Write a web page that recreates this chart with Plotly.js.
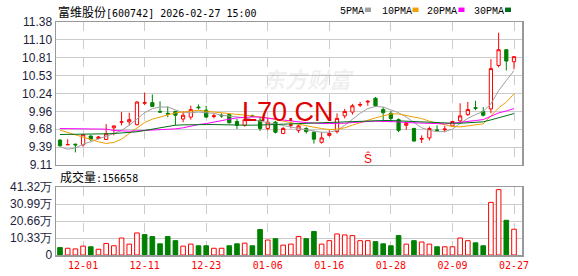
<!DOCTYPE html>
<html><head><meta charset="utf-8">
<script src="https://cdn.plot.ly/plotly-3.0.1.min.js"></script>
<style>html,body{margin:0;padding:0;background:#fff;}#chart{width:578px;height:276px;}</style>
</head><body><div id="chart"></div>
<script>
const dates = ['11-26','11-27','11-28','12-01','12-02','12-03','12-04','12-05','12-08','12-09','12-10','12-11','12-12','12-15','12-16','12-17','12-18','12-19','12-22','12-23','12-24','12-25','12-26','12-29','12-30','12-31','01-05','01-06','01-07','01-08','01-09','01-12','01-13','01-14','01-15','01-16','01-19','01-20','01-21','01-22','01-23','01-26','01-27','01-28','01-29','01-30','02-02','02-03','02-04','02-05','02-06','02-09','02-10','02-11','02-12','02-13','02-24','02-25','02-26','02-27'];
const openP = [9.505,9.43,9.44,9.43,9.57,9.53,9.515,9.70,9.79,9.795,9.75,10.09,10.10,9.96,9.93,9.96,9.84,9.87,10.03,9.98,9.88,9.90,9.91,9.80,9.74,9.89,9.82,9.69,9.79,9.61,9.74,9.66,9.69,9.63,9.47,9.58,9.64,9.89,9.95,10.06,10.11,10.17,9.99,9.93,9.83,9.74,9.69,9.52,9.54,9.665,9.67,9.73,9.81,9.91,10.02,9.96,10.00,10.69,10.94,10.75];
const highP = [9.52,9.52,9.45,9.60,9.58,9.57,9.76,9.74,9.95,9.94,10.12,10.26,10.23,10.12,10.04,9.97,9.96,10.05,10.07,10.05,9.92,9.93,9.93,9.84,9.85,9.91,9.87,9.85,9.81,9.715,9.78,9.75,9.71,9.65,9.63,9.66,9.93,10.00,10.08,10.11,10.14,10.19,10.03,9.97,9.85,9.80,9.70,9.58,9.72,9.74,9.73,9.81,10.09,10.11,10.13,10.03,10.79,11.21,10.95,10.83];
const lowP = [9.40,9.43,9.31,9.40,9.49,9.52,9.51,9.58,9.74,9.74,9.74,10.06,10.03,9.94,9.87,9.74,9.79,9.83,9.99,9.86,9.85,9.86,9.77,9.68,9.72,9.87,9.65,9.66,9.61,9.60,9.69,9.62,9.61,9.45,9.45,9.56,9.61,9.85,9.91,10.03,10.05,10.03,9.79,9.79,9.63,9.67,9.48,9.46,9.50,9.65,9.63,9.72,9.78,9.89,9.98,9.88,9.93,10.66,10.61,10.63];
const closeP = [9.415,9.435,9.43,9.59,9.52,9.555,9.605,9.73,9.795,9.83,10.11,10.10,10.04,9.95,9.92,9.90,9.90,9.99,10.02,9.87,9.89,9.89,9.78,9.74,9.83,9.88,9.69,9.79,9.63,9.69,9.745,9.73,9.64,9.52,9.54,9.61,9.85,9.96,10.05,10.07,10.12,10.05,9.94,9.85,9.66,9.77,9.49,9.53,9.69,9.66,9.68,9.80,9.89,9.99,10.01,9.90,10.64,10.94,10.76,10.83];
const ma5 = [9.40,9.36,9.38,9.44,9.48,9.52,9.56,9.61,9.66,9.74,9.84,9.94,10.005,10.03,10.03,9.99,9.94,9.94,9.95,9.94,9.93,9.90,9.89,9.87,9.86,9.83,9.805,9.78,9.76,9.73,9.715,9.69,9.67,9.65,9.63,9.63,9.66,9.74,9.84,9.93,10.005,10.04,10.03,9.99,9.94,9.87,9.78,9.70,9.66,9.64,9.64,9.68,9.77,9.85,9.91,9.96,10.08,10.29,10.45,10.61];
const ma10 = [9.663,9.626,9.584,9.542,9.505,9.479,9.452,9.468,9.521,9.61,9.689,9.784,9.837,9.873,9.91,9.937,9.952,9.963,9.979,9.963,9.952,9.937,9.926,9.91,9.90,9.889,9.873,9.858,9.831,9.805,9.779,9.752,9.731,9.71,9.689,9.673,9.679,9.70,9.742,9.784,9.821,9.858,9.889,9.921,9.921,9.90,9.873,9.847,9.805,9.773,9.742,9.721,9.715,9.731,9.747,9.763,9.889,10.016,10.11,10.24];
const ma20 = [9.689,9.689,9.689,9.689,9.689,9.689,9.679,9.658,9.647,9.647,9.652,9.658,9.663,9.668,9.673,9.684,9.70,9.731,9.752,9.768,9.795,9.816,9.837,9.858,9.868,9.873,9.868,9.852,9.837,9.821,9.805,9.795,9.784,9.773,9.768,9.768,9.768,9.773,9.784,9.795,9.80,9.805,9.805,9.80,9.795,9.784,9.779,9.773,9.768,9.768,9.763,9.773,9.784,9.80,9.816,9.831,9.889,9.937,9.968,10.005];
const ma30 = [9.594,9.594,9.594,9.60,9.605,9.605,9.605,9.61,9.615,9.626,9.637,9.658,9.679,9.71,9.731,9.742,9.747,9.752,9.758,9.752,9.752,9.747,9.747,9.742,9.742,9.742,9.742,9.747,9.752,9.758,9.763,9.768,9.773,9.779,9.784,9.79,9.795,9.795,9.80,9.80,9.805,9.81,9.816,9.816,9.81,9.805,9.795,9.79,9.784,9.779,9.773,9.773,9.773,9.779,9.784,9.795,9.826,9.863,9.894,9.926];
const volume = [45000,41000,37000,54000,50000,35000,70000,56000,103000,66000,134000,124000,112000,68000,112000,87000,54000,66000,56000,56000,41000,41000,56000,68000,72000,56000,155000,91000,99000,60000,66000,112000,99000,143000,66000,87000,128000,122000,118000,87000,87000,81000,68000,56000,118000,66000,87000,79000,66000,50000,50000,50000,103000,87000,74000,56000,320000,397000,211000,156658];
const volumeUp = [0,1,1,1,0,1,1,1,1,1,1,0,0,0,0,0,1,1,0,0,1,1,0,0,1,0,0,1,0,1,1,1,0,0,1,1,1,1,1,1,1,0,0,0,0,1,0,1,1,0,1,1,1,1,0,0,1,1,0,1];
const xTickDates = ['12-01','12-11','12-23','01-06','01-16','01-28','02-09','02-27'];
const priceTicks = [9.11,9.394,9.678,9.961,10.245,10.529,10.813,11.096,11.38];
const priceTickLabels = ['9.11','9.39','9.68','9.96','10.24','10.53','10.81','11.10','11.38'];
const volTicks = [0,103300,206600,309900,413200];
const volTickLabels = ['0','10.33万','20.66万','30.99万','41.32万'];
const maNames = ['5PMA','10PMA','20PMA','30PMA'];
const maColors = ['#a0a0a0','#f0a000','#ff00ff','#006f1a'];
const stockTitle = '富维股份';
const stockCode = '[600742] 2026-02-27 15:00';

const RED = '#ff0000', GREEN = '#008000';
const traces = [];
traces.push({
  type:'candlestick', x:dates, open:openP, high:highP, low:lowP, close:closeP,
  xaxis:'x', yaxis:'y', whiskerwidth:0,
  increasing:{line:{color:RED,width:1}, fillcolor:'#ffffff'},
  decreasing:{line:{color:GREEN,width:1}, fillcolor:GREEN},
  showlegend:false, hoverinfo:'skip'
});
[ma5,ma10,ma20,ma30].forEach((arr,i)=>{
  traces.push({type:'scatter',mode:'lines',x:dates,y:arr,xaxis:'x',yaxis:'y',
    line:{color:maColors[i],width:1},showlegend:false,hoverinfo:'skip'});
});
traces.push({
  type:'bar', x:dates, y:volume, xaxis:'x2', yaxis:'y2', width:0.6,
  marker:{color:volumeUp.map(u=>u?'#ffffff':GREEN), line:{color:volumeUp.map(u=>u?RED:GREEN),width:1}},
  showlegend:false, hoverinfo:'skip'
});

const xCommon = {type:'category', range:[-0.52,60.04], showgrid:true, gridcolor:'#cccccc', griddash:'dash', gridwidth:1,
  tickmode:'array', tickvals:xTickDates, ticktext:xTickDates, showline:true, mirror:true, linecolor:'#999999', linewidth:1.5,
  zeroline:false, ticks:'', fixedrange:true};
const tickFontY = {family:'Liberation Sans, Arial, sans-serif', size:12, color:'#1e1e3c'};

const annotations = [
  {xref:'paper',yref:'paper',x:0,y:1.047,xanchor:'left',yanchor:'middle',showarrow:false,
   text:'<span style="font-family:\'Noto Sans CJK SC\';font-size:12px">'+stockTitle+'</span>'+stockCode,
   font:{family:'DejaVu Sans Mono, monospace',size:10,color:'#000'}},
  {xref:'paper',yref:'paper',x:0.0043,y:0.335,xanchor:'left',yanchor:'middle',showarrow:false,
   text:'<span style="font-family:\'Noto Sans CJK SC\';font-size:12px">成交量</span>:'+volume[volume.length-1],
   font:{family:'DejaVu Sans Mono, monospace',size:10,color:'#000'}},
  {xref:'paper',yref:'paper',x:0.541,y:0.76,xanchor:'center',yanchor:'middle',showarrow:false,
   text:'<b><i>东方财富</i></b>', font:{family:'Noto Sans CJK SC',size:22,color:'rgba(0,0,0,0.07)'}},
  {xref:'paper',yref:'paper',x:0.4979,y:0.614,xanchor:'center',yanchor:'middle',showarrow:false,
   text:'L70.CN', font:{family:'Liberation Sans, Arial, sans-serif',size:27,color:'#e00000'}},
  {xref:'x',yref:'paper',x:'01-23',y:0.415,xanchor:'center',yanchor:'middle',showarrow:false,
   text:'Ŝ', font:{family:'Liberation Sans, Arial, sans-serif',size:12,color:'#ff0000'}}
];
const legendLeft = [338,380,425,472];
const legendSq = [368,415.5,461.5,508];
maNames.forEach((n,i)=>{
  annotations.push({xref:'paper',yref:'paper',x:(legendLeft[i]-56)/466,y:1.047,xanchor:'left',yanchor:'middle',showarrow:false,
    text:n,font:{family:'Liberation Mono, Courier New, monospace',size:10,color:'#000'}});
});
const shapes = legendSq.map((c,i)=>({type:'rect',xref:'paper',yref:'paper',
  x0:(c-3-56)/466,x1:(c+3-56)/466,y0:1.043,y1:1.062,fillcolor:maColors[i],line:{width:0}}));

const layout = {
  width:578, height:276, margin:{l:56,r:56,t:22,b:21},
  paper_bgcolor:'#ffffff', plot_bgcolor:'#ffffff', showlegend:false,
  xaxis:Object.assign({}, xCommon, {anchor:'y', showticklabels:false, rangeslider:{visible:false}}),
  xaxis2:Object.assign({}, xCommon, {anchor:'y2', matches:'x', showticklabels:true,
     tickfont:{family:'DejaVu Sans Mono, monospace',size:10,color:'#ff0000'}}),
  yaxis:{domain:[0.3863,1], range:[9.11,11.38], tickmode:'array', tickvals:priceTicks, ticktext:priceTickLabels,
     showgrid:true, gridcolor:'#cccccc', gridwidth:1, showline:true, mirror:true, linecolor:'#999999', linewidth:1.5,
     zeroline:false, ticks:'', tickfont:tickFontY, fixedrange:true},
  yaxis2:{domain:[0,0.2918], range:[0,413200], tickmode:'array', tickvals:volTicks, ticktext:volTickLabels,
     showgrid:true, gridcolor:'#cccccc', gridwidth:1, showline:true, mirror:true, linecolor:'#999999', linewidth:1.5,
     zeroline:false, ticks:'', tickfont:tickFontY, fixedrange:true},
  annotations:annotations, shapes:shapes, boxgap:0.4
};
Plotly.newPlot('chart', traces, layout, {staticPlot:true, displayModeBar:false});
</script>
</body></html>
